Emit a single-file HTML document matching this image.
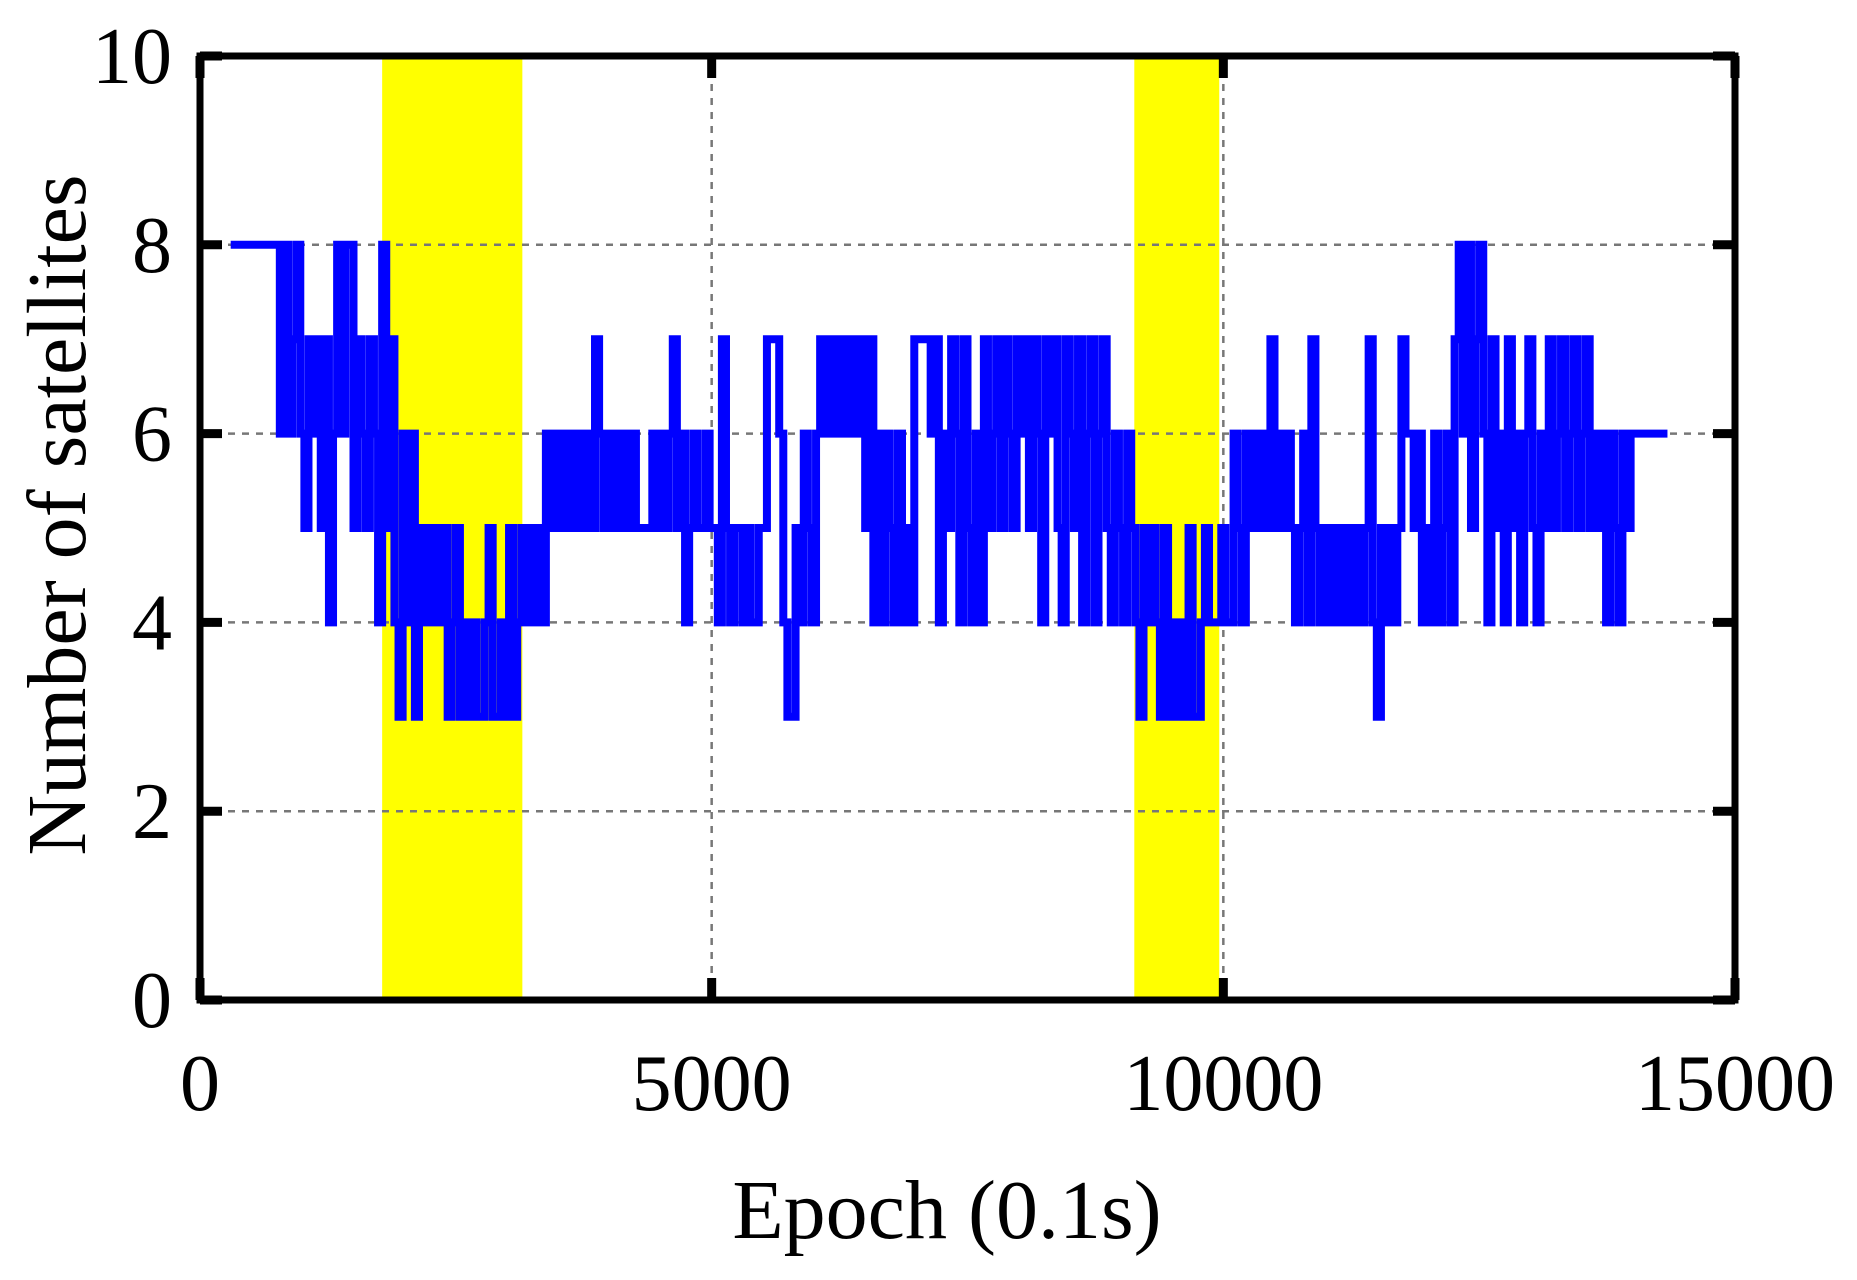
<!DOCTYPE html>
<html><head><meta charset="utf-8"><style>
html,body{margin:0;padding:0;background:#fff;}
svg{display:block;}
text{font-family:"Liberation Serif",serif;fill:#000;}
</style></head><body>
<svg id="chart" width="1857" height="1280" viewBox="0 0 1857 1280" xmlns="http://www.w3.org/2000/svg"></svg>
<script>
const xDomain=[0,15000];
const yDomain=[0,10];
const xTicks=[0,5000,10000,15000];
const yTicks=[0,2,4,6,8,10];
const xTickLabels=["0","5000","10000","15000"];
const yTickLabels=["0","2","4","6","8","10"];
const bands=[[1780,3150],[9130,9960]];
const startEpoch=300;
const epochStep=40;
const counts=[8,8,8,8,8,8,8,8,8,8,8,8,
6,8,6,7,8,6, 5,7, 6,7,5,7,4,6, 8,6,8, 8,5, 7,6,5,7,6, 4,8,5,7, 4,3,6, 4,6,3,5, 4,5,4,5,
4,5,3,4,5, 3,4,3,4,3, 3,4,5,3, 3,4,3,5, 3,4,5, 4,5,4,5,4, 6,5,6,5, 6,5,6,5,6,5,6,5,
7,6,5, 6,5,6,5,6, 5,6,5,5, 5,5,6, 5,6,5,6,7, 5,6,4, 5,6,5,5, 6,5,5, 4,7, 5,4,5,5,
4,5,4,4, 5,5,7, 7,7,6, 4,3,3,5, 4,6,5,4, 6,7,6, 7,6,7,6,7,6,7,6, 7,5,7,4, 6,4,6,5,
4,6,4,5,4, 7,7,7,7,6,7, 4,6,5,7,6, 4,7,5,4,6, 4,7,5,6, 7,5,7,6, 5,7,6,7, 5,7,6,4,
7,6,7,5, 4,7,6,5, 7,4,6,7, 4,6,7,5, 4,6,5,4, 6,5,4, 3,5,4, 5,4,3,5, 3,4,3,4, 3,5,3,
3,4, 5,4,4, 4,5,4,4, 6,5,4,6, 5,6,5,6,5, 7,5,6, 5,6,5,4, 5,6,4, 7,5,4, 5,4,5,4,5,4,
5,4,5,4,5, 7,4,3,5, 4,5,4, 5,7,6, 6,5,6,4, 5,4,6,4, 5,6,4,7, 8,6,8,5, 7,8,6,4,
7,5,6,4, 7,5,6,4, 6,7,5,4, 6,5,7,5, 6,7,5,6, 7,5,6,7, 5,6,5,6, 4,6,5,4, 6,5,6,6,
6,6,6,6,6,6,6];

const L=200,R=1735,T=56,B=1000;
const sx=v=>L+(v-xDomain[0])/(xDomain[1]-xDomain[0])*(R-L);
const sy=v=>B-(v-yDomain[0])/(yDomain[1]-yDomain[0])*(B-T);
const svg=document.getElementById('chart');
const NS="http://www.w3.org/2000/svg";
function mk(tag,attrs,parent){const e=document.createElementNS(NS,tag);for(const k in attrs)e.setAttribute(k,attrs[k]);(parent||svg).appendChild(e);return e;}

bands.forEach((b,i)=>{
  const r=mk('rect',{x:sx(b[0]),y:T,width:sx(b[1])-sx(b[0]),height:B-T,fill:'#ffff00'});
  
  
});
yTicks.forEach(v=>{
  if(v===yDomain[0]||v===yDomain[1])return;
  const g=mk('line',{x1:L,x2:R,y1:sy(v),y2:sy(v),stroke:'#777','stroke-width':2.5,'stroke-dasharray':'7,7'});
  
  
});
xTicks.forEach(v=>{
  if(v===xDomain[0]||v===xDomain[1])return;
  const g=mk('line',{x1:sx(v),x2:sx(v),y1:T,y2:B,stroke:'#777','stroke-width':2.5,'stroke-dasharray':'7,7'});
  
  
});
let pts=[];
counts.forEach((c,i)=>{
  const e0=startEpoch+i*epochStep, e1=e0+epochStep;
  pts.push(sx(e0)+','+sy(c));
  pts.push(sx(e1)+','+sy(c));
});
const line=mk('polyline',{points:pts.join(' '),fill:'none',stroke:'#0000ff','stroke-width':8,'stroke-linejoin':'miter'});


yTicks.forEach((v,i)=>{
  const y=sy(v);
  const t1=mk('line',{x1:L,x2:L+22,y1:y,y2:y,stroke:'#000','stroke-width':9});
  
  
  const t2=mk('line',{x1:R-22,x2:R,y1:y,y2:y,stroke:'#000','stroke-width':9});
  
  
  const tx=mk('text',{x:172,y:y+27,'text-anchor':'end','font-size':80});
  tx.textContent=yTickLabels[i];
  
  
});
xTicks.forEach((v,i)=>{
  const x=sx(v);
  const t1=mk('line',{x1:x,x2:x,y1:B,y2:B-22,stroke:'#000','stroke-width':9});
  
  
  const t2=mk('line',{x1:x,x2:x,y1:T,y2:T+22,stroke:'#000','stroke-width':9});
  
  
  const tx=mk('text',{x:x,y:1110,'text-anchor':'middle','font-size':80});
  tx.textContent=xTickLabels[i];
  
  
});
const fr=mk('rect',{x:L,y:T,width:R-L,height:B-T,fill:'none',stroke:'#000','stroke-width':7});


const xt=mk('text',{x:947,y:1238,'text-anchor':'middle','font-size':84});
xt.textContent='Epoch (0.1s)';


const yt=mk('text',{x:0,y:0,'text-anchor':'middle','font-size':84,transform:'translate(85,515) rotate(-90)'});
yt.textContent='Number of satellites';


</script>
</body></html>
